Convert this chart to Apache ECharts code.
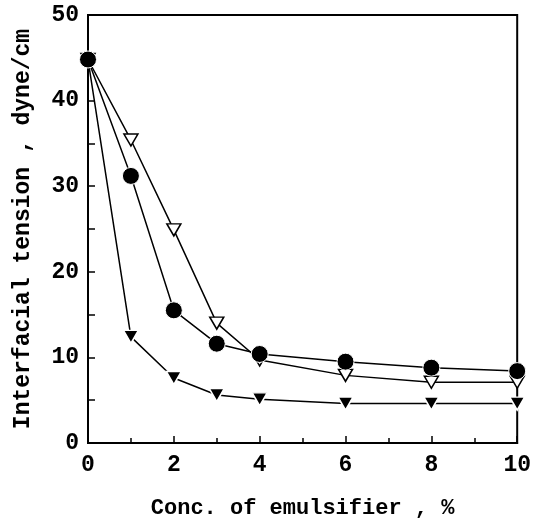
<!DOCTYPE html>
<html>
<head>
<meta charset="utf-8">
<script src="https://cdn.jsdelivr.net/npm/echarts@6/dist/echarts.min.js"></script>
<style>
  html, body { margin: 0; padding: 0; background: #fff; }
  #chart { width: 534px; height: 524px; }
</style>
</head>
<body>
<div id="chart"></div>
<script>
// concentration of emulsifier (%)
const conc = [0, 1, 2, 3, 4, 6, 8, 10];
// interfacial tension (dyne/cm)
const circleVals = [44.8, 31.2, 15.5, 11.6, 10.4, 9.5, 8.8, 8.4];
const openTriVals = [44.8, 35.4, 24.9, 14.0, 9.7, 7.9, 7.1, 7.1];
const filledTriVals = [44.8, 12.4, 7.6, 5.6, 5.1, 4.6, 4.6, 4.6];

const FONT = '"Liberation Mono", "DejaVu Sans Mono", monospace';

function pairs(vals) {
    return conc.map(function (c, i) { return [c, vals[i]]; });
}

const chart = echarts.init(document.getElementById('chart'));

const lineBase = {
    type: 'line',
    showAllSymbol: true,
    lineStyle: {color: '#000', width: 1.5},
    z: 3
};

const option = {
    backgroundColor: '#fff',
    animation: false,
    grid: {
        left: 88, right: 14, top: 15, bottom: 79,
        show: true, borderColor: '#000', borderWidth: 2
    },
    xAxis: {
        type: 'value',
        min: 0, max: 10, interval: 2,
        name: 'Conc. of emulsifier , %',
        nameLocation: 'middle',
        nameGap: 54,
        nameTextStyle: {fontFamily: FONT, fontWeight: 'bold', fontSize: 22, color: '#000'},
        axisLine: {lineStyle: {color: '#000', width: 2}},
        axisTick: {inside: true, length: 7, lineStyle: {color: '#000', width: 1.5}},
        minorTick: {show: true, splitNumber: 2, length: 5, lineStyle: {color: '#000', width: 1.5}},
        axisLabel: {fontFamily: FONT, fontWeight: 'bold', fontSize: 23, color: '#000', margin: 11},
        splitLine: {show: false}
    },
    yAxis: {
        type: 'value',
        min: 0, max: 50, interval: 10,
        name: 'Interfacial tension , dyne/cm',
        nameLocation: 'middle',
        nameGap: 53,
        nameTextStyle: {fontFamily: FONT, fontWeight: 'bold', fontSize: 23, color: '#000'},
        axisLine: {lineStyle: {color: '#000', width: 2}},
        axisTick: {inside: true, length: 7, lineStyle: {color: '#000', width: 1.5}},
        minorTick: {show: true, splitNumber: 2, length: 7, lineStyle: {color: '#000', width: 1.5}},
        axisLabel: {fontFamily: FONT, fontWeight: 'bold', fontSize: 23, color: '#000', margin: 9},
        splitLine: {show: false}
    },
    series: [
        Object.assign({}, lineBase, {
            name: 'filled triangle',
            data: pairs(filledTriVals),
            symbol: 'triangle',
            symbolRotate: 180,
            symbolSize: [15, 13],
            itemStyle: {color: '#000', borderColor: '#fff', borderWidth: 1.5}
        }),
        Object.assign({}, lineBase, {
            name: 'open triangle',
            data: pairs(openTriVals),
            symbol: 'triangle',
            symbolRotate: 180,
            symbolSize: [14, 12],
            itemStyle: {color: '#fff', borderColor: '#000', borderWidth: 1.5}
        }),
        Object.assign({}, lineBase, {
            name: 'circle',
            data: pairs(circleVals),
            symbol: 'circle',
            symbolSize: 17,
            itemStyle: {color: '#000', borderColor: '#fff', borderWidth: 1}
        })
    ]
};

chart.setOption(option);
</script>
</body>
</html>
